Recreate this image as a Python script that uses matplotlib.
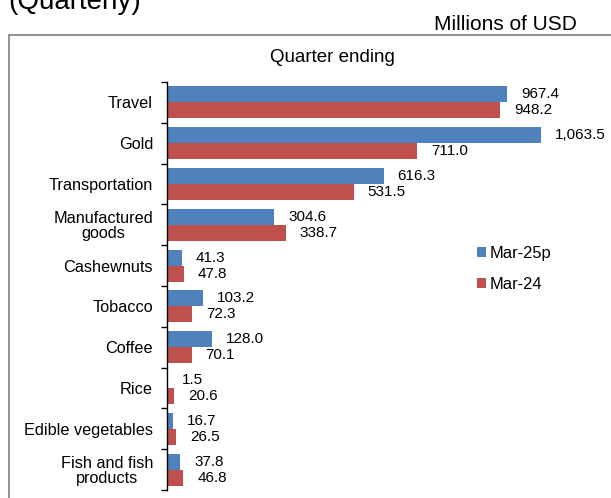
import numpy as np
import matplotlib
matplotlib.use('Agg')
import matplotlib.pyplot as plt
from matplotlib.patches import Rectangle

plt.rcParams['font.family'] = ['Liberation Sans', 'DejaVu Sans']

categories = ['Travel', 'Gold', 'Transportation', 'Manufactured\ngoods', 'Cashewnuts',
              'Tobacco', 'Coffee', 'Rice', 'Edible vegetables', 'Fish and fish\nproducts']
mar25 = [967.4, 1063.5, 616.3, 304.6, 41.3, 103.2, 128.0, 1.5, 16.7, 37.8]
mar24 = [948.2, 711.0, 531.5, 338.7, 47.8, 72.3, 70.1, 20.6, 26.5, 46.8]
labels25 = ['967.4', '1,063.5', '616.3', '304.6', '41.3', '103.2', '128.0', '1.5', '16.7', '37.8']
labels24 = ['948.2', '711.0', '531.5', '338.7', '47.8', '72.3', '70.1', '20.6', '26.5', '46.8']

blue = '#4F81BD'
red = '#C0504D'

fig = plt.figure(figsize=(6.11, 4.98), dpi=100)
ax = fig.add_axes([167 / 611, 1 - 490 / 498, 430 / 611, 408 / 498])

y = np.arange(len(categories))
h = 0.39
ax.barh(y - h / 2, mar25, height=h, color=blue, label='Mar-25p')
ax.barh(y + h / 2, mar24, height=h, color=red, label='Mar-24')

for i in range(len(categories)):
    ax.annotate(labels25[i], (mar25[i], y[i] - h / 2), xytext=(10, 0), textcoords='offset points',
                ha='left', va='center', fontsize=11)
    ax.annotate(labels24[i], (mar24[i], y[i] + h / 2), xytext=(10, 0), textcoords='offset points',
                ha='left', va='center', fontsize=11)

ax.set_xlim(0, 430 / 0.3515)
ax.set_ylim(len(categories) - 0.5, -0.5)
ax.set_yticks(y)
ax.set_yticklabels(categories, fontsize=11.7, multialignment='center', linespacing=1.0)
ax.tick_params(axis='y', which='major', length=0, pad=10)
ax.set_yticks(np.arange(-0.5, len(categories)), minor=True)
ax.tick_params(axis='y', which='minor', length=4, width=1, direction='out')
ax.set_xticks([])
for s in ['top', 'right', 'bottom']:
    ax.spines[s].set_visible(False)
ax.spines['left'].set_linewidth(1)

ax.legend(loc='center left', bbox_to_anchor=(462 / 611, 1 - 269 / 498), bbox_transform=fig.transFigure,
          frameon=False, fontsize=11.9, handlelength=0.55, handleheight=0.55, handletextpad=0.2,
          labelspacing=1.0)

fig.patches.append(Rectangle((9 / 611, -0.1), 1.0, 1.1 - 35 / 498, transform=fig.transFigure,
                             fill=False, edgecolor='#7f7f7f', linewidth=1.2))
fig.text(332 / 611, 1 - 57 / 498, 'Quarter ending', ha='center', va='center', fontsize=13.5)
fig.text(577 / 611, 1 - 24 / 498, 'Millions of USD', ha='right', va='center', fontsize=15)
fig.text(8 / 611, 1 - 9 / 498, '(Quarterly)', ha='left', va='baseline', fontsize=20)

plt.savefig('out.png', dpi=100)
